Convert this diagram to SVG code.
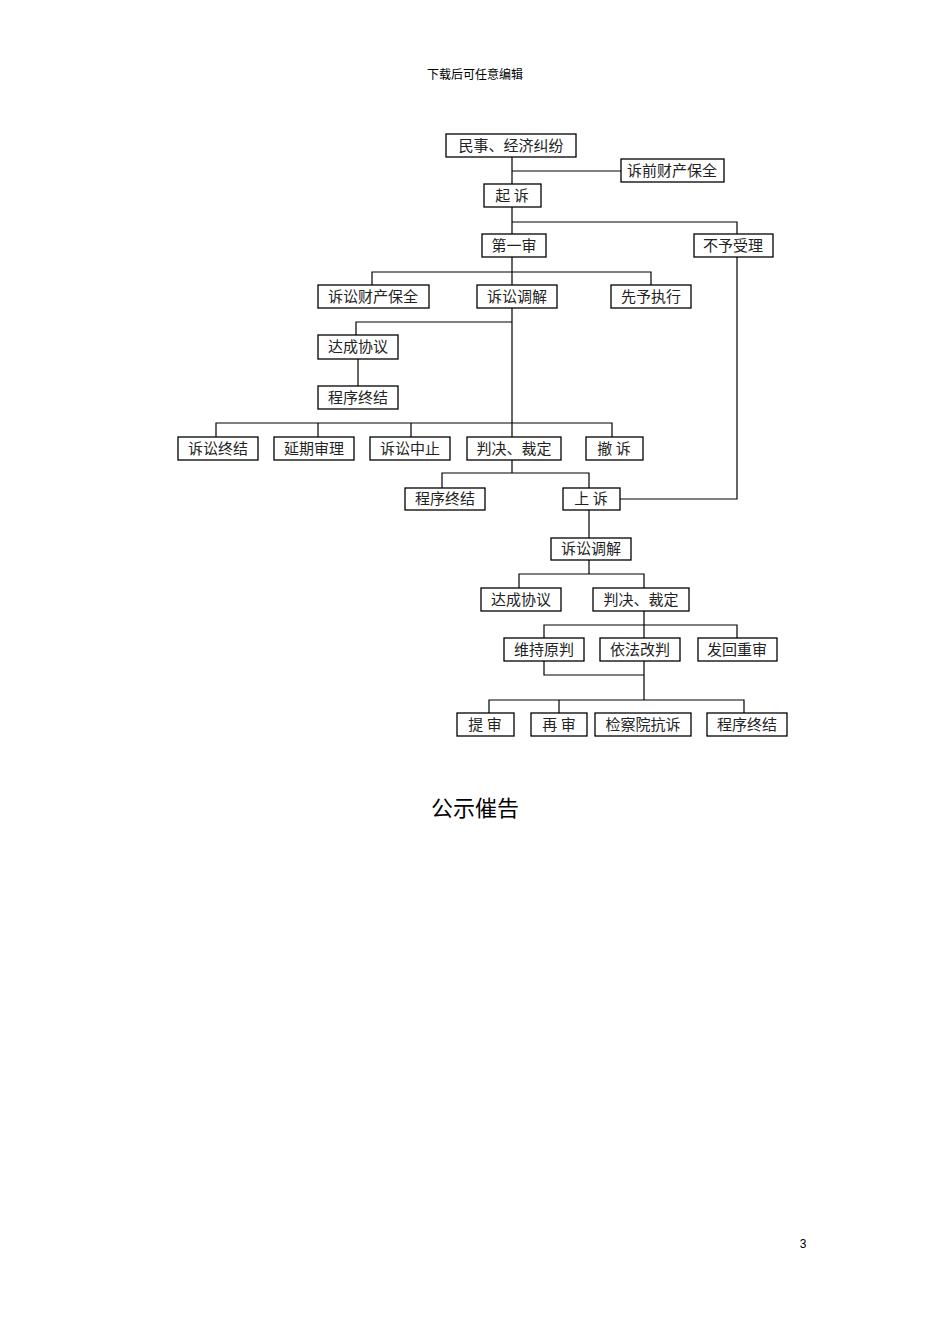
<svg xmlns="http://www.w3.org/2000/svg" width="950" height="1344" viewBox="0 0 950 1344">
<style>
.b rect{fill:#fff;stroke:#000;stroke-width:1.3}
.b text{font-family:"Noto Sans CJK SC","Liberation Sans",sans-serif;font-size:15px;text-anchor:middle;fill:#222}
#c path{fill:none;stroke:#000;stroke-width:1.2}
</style>
<rect width="950" height="1344" fill="#fff"/>
<text x="475" y="79" font-family="Noto Sans CJK SC,sans-serif" font-size="12" text-anchor="middle">下载后可任意编辑</text>
<g id="c">
<path d="M512 157V184M512 171H621M512 207V234M512 222H737V234M512 257V285M372 285V272H651V285M512 308V437M356 335V322H512M358 359V386M216 437V423H612V437M318 423V437M411 423V437M512 460V473M442 488V473H589V488M737 257V499H620M589 510V538M589 560V574M519 588V574H644V588M644 611V700M544 638V625H737V638M544 661V675H644M489 713V700H744V713M559 700V713"/>
</g>
<g class="b" id="n1"><rect x="446" y="134" width="130" height="23"/><text x="511" y="151">民事、经济纠纷</text></g>
<g class="b" id="n2"><rect x="621" y="159" width="103" height="23"/><text x="672" y="176">诉前财产保全</text></g>
<g class="b" id="n3"><rect x="484" y="184" width="57" height="23"/><text x="512" y="201">起 诉</text></g>
<g class="b" id="n4"><rect x="482" y="234" width="64" height="23"/><text x="514" y="251">第一审</text></g>
<g class="b" id="n5"><rect x="694" y="234" width="79" height="23"/><text x="733" y="251">不予受理</text></g>
<g class="b" id="n6"><rect x="318" y="285" width="111" height="23"/><text x="373" y="302">诉讼财产保全</text></g>
<g class="b" id="n7"><rect x="477" y="285" width="80" height="23"/><text x="517" y="302">诉讼调解</text></g>
<g class="b" id="n8"><rect x="611" y="285" width="80" height="23"/><text x="651" y="302">先予执行</text></g>
<g class="b" id="n9"><rect x="318" y="335" width="80" height="24"/><text x="358" y="352">达成协议</text></g>
<g class="b" id="n10"><rect x="318" y="386" width="80" height="23"/><text x="358" y="403">程序终结</text></g>
<g class="b" id="n11"><rect x="178" y="437" width="80" height="23"/><text x="218" y="454">诉讼终结</text></g>
<g class="b" id="n12"><rect x="274" y="437" width="80" height="23"/><text x="314" y="454">延期审理</text></g>
<g class="b" id="n13"><rect x="370" y="437" width="80" height="23"/><text x="410" y="454">诉讼中止</text></g>
<g class="b" id="n14"><rect x="467" y="437" width="94" height="23"/><text x="514" y="454">判决、裁定</text></g>
<g class="b" id="n15"><rect x="586" y="437" width="57" height="23"/><text x="614" y="454">撤 诉</text></g>
<g class="b" id="n16"><rect x="405" y="488" width="80" height="22"/><text x="445" y="504">程序终结</text></g>
<g class="b" id="n17"><rect x="563" y="488" width="57" height="22"/><text x="591" y="504">上 诉</text></g>
<g class="b" id="n18"><rect x="551" y="538" width="80" height="22"/><text x="591" y="554">诉讼调解</text></g>
<g class="b" id="n19"><rect x="481" y="588" width="80" height="23"/><text x="521" y="605">达成协议</text></g>
<g class="b" id="n20"><rect x="593" y="588" width="96" height="23"/><text x="641" y="605">判决、裁定</text></g>
<g class="b" id="n21"><rect x="504" y="638" width="80" height="23"/><text x="544" y="655">维持原判</text></g>
<g class="b" id="n22"><rect x="600" y="638" width="80" height="23"/><text x="640" y="655">依法改判</text></g>
<g class="b" id="n23"><rect x="698" y="638" width="79" height="23"/><text x="737" y="655">发回重审</text></g>
<g class="b" id="n24"><rect x="457" y="713" width="57" height="23"/><text x="485" y="730">提 审</text></g>
<g class="b" id="n25"><rect x="531" y="713" width="56" height="23"/><text x="559" y="730">再 审</text></g>
<g class="b" id="n26"><rect x="595" y="713" width="96" height="23"/><text x="643" y="730">检察院抗诉</text></g>
<g class="b" id="n27"><rect x="707" y="713" width="80" height="23"/><text x="747" y="730">程序终结</text></g>
<text x="475" y="816" font-family="Noto Sans CJK SC,sans-serif" font-size="22" text-anchor="middle">公示催告</text>
<text x="803" y="1248" font-family="Liberation Sans,sans-serif" font-size="12" text-anchor="middle">3</text>
</svg>
